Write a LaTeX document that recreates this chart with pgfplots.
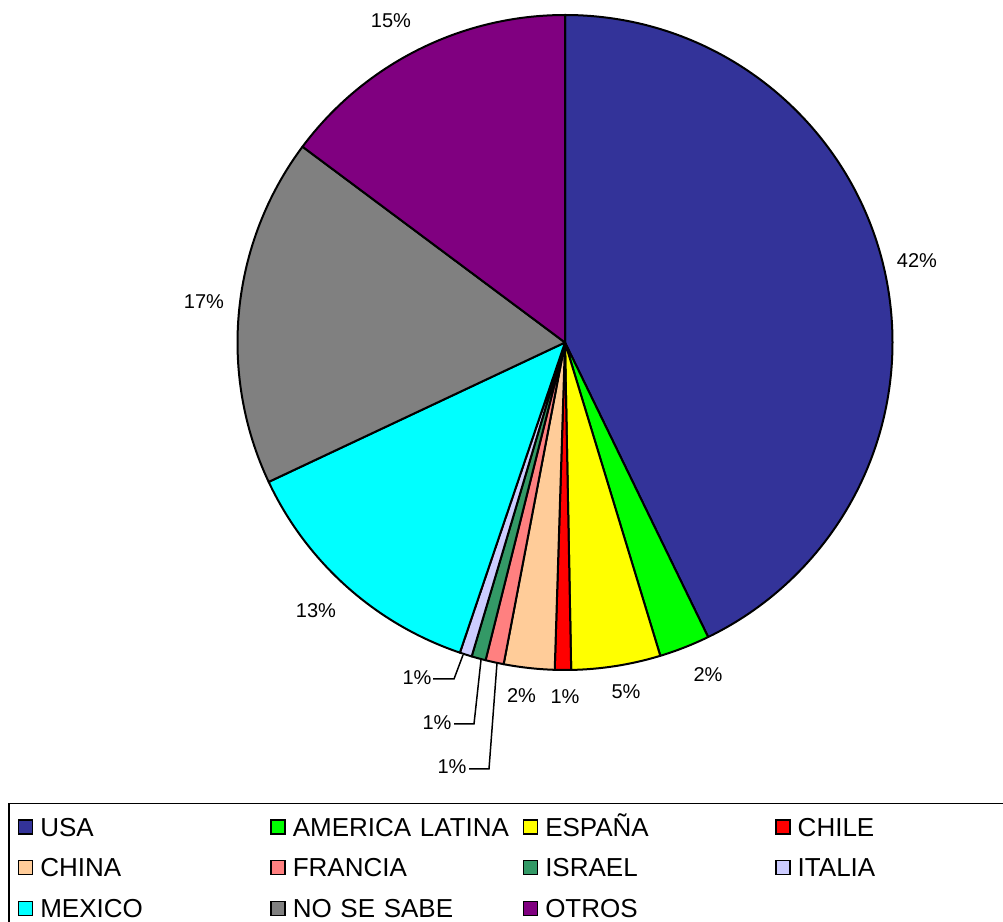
\documentclass[border=0pt]{standalone}
\usepackage{pgfplots}
\usepackage{pgfplotstable}
\usepackage{fontspec}
\setmainfont{Liberation Sans}
\pgfplotsset{compat=1.18}

\definecolor{cusa}{HTML}{333399}
\definecolor{clat}{HTML}{00FF00}
\definecolor{cesp}{HTML}{FFFF00}
\definecolor{cchi}{HTML}{FF0000}
\definecolor{cchn}{HTML}{FFCC99}
\definecolor{cfra}{HTML}{FF8080}
\definecolor{cisr}{HTML}{339966}
\definecolor{cita}{HTML}{CCCCFF}
\definecolor{cmex}{HTML}{00FFFF}
\definecolor{cnss}{HTML}{808080}
\definecolor{cotr}{HTML}{800080}

% porcentaje de cada pais (en orden horario desde arriba)
\pgfplotstableread[col sep=comma]{
pais,pct,col
USA,42.8,cusa
AMERICA LATINA,2.5,clat
ESPANA,4.4,cesp
CHILE,0.8,cchi
CHINA,2.5,cchn
FRANCIA,0.9,cfra
ISRAEL,0.7,cisr
ITALIA,0.6,cita
MEXICO,12.8,cmex
NO SE SABE,17.2,cnss
OTROS,14.8,cotr
}\piedata

\begin{document}
\begin{tikzpicture}
\clip (0,0) rectangle (501.5pt,461pt);
\begin{axis}[
    x=0.5pt, y=0.5pt,
    xmin=-565, xmax=438,
    ymin=-579.5, ymax=342.5,
    hide axis,
    clip=false,
    legend columns=4,
    legend cell align=left,
    legend image code/.code={\draw[#1,draw=black,line width=0.75pt] (0pt,-3.5pt) rectangle (7pt,3.5pt);},
    legend style={at={(0.00798,0.1291)}, anchor=north west,
        draw=black, line width=0.75pt,
        inner xsep=4.5pt, inner ysep=1.4pt,
        row sep=0pt, column sep=0pt,
        font=\fontsize{13}{15}\selectfont,
        nodes={inner xsep=3.5pt, inner ysep=3.6pt, text height=11.15pt,
               text depth=2pt, text width=111.5pt, align=left}},
  ]
\pgfplotstablegetrowsof{\piedata}
\pgfmathtruncatemacro\N{\pgfplotsretval-1}
\def\acc{0}
\pgfplotsforeachungrouped \i in {0,...,\N}{%
  \pgfplotstablegetelem{\i}{pct}\of\piedata \let\v\pgfplotsretval
  \pgfplotstablegetelem{\i}{col}\of\piedata \let\c\pgfplotsretval
  \pgfmathsetmacro\a{90-3.6*\acc}
  \pgfmathsetmacro\b{90-3.6*(\acc+\v)}
  \pgfmathsetmacro\xa{327.5*cos(\a)}
  \pgfmathsetmacro\ya{327.5*sin(\a)}
  \edef\temp{\noexpand\filldraw[fill=\c,draw=black,line width=1pt,line join=round]
    (axis cs:0,0) -- (axis cs:\xa,\ya) arc[start angle=\a,end angle=\b,radius=163.75pt] -- cycle;}
  \temp
  \pgfmathsetmacro\acc{\acc+\v}
}

% etiquetas
\begin{scope}[font=\fontsize{10}{12}\selectfont]
\node at (axis cs:-174,321.5) {15\%};
\node at (axis cs:352,81.5) {42\%};
\node at (axis cs:-361,40.5) {17\%};
\node at (axis cs:-249,-268.5) {13\%};
\node at (axis cs:143,-332.5) {2\%};
\node at (axis cs:61,-349.5) {5\%};
\node at (axis cs:0,-354.5) {1\%};
\node at (axis cs:-43.5,-353.5) {2\%};
\node at (axis cs:-148,-335.5) {1\%};
\node at (axis cs:-128,-380.5) {1\%};
\node at (axis cs:-113,-424.5) {1\%};
\end{scope}
\draw[line width=0.75pt] (axis cs:-132,-336.5) -- (axis cs:-111,-336.5) -- (axis cs:-102,-312.5);
\draw[line width=0.75pt] (axis cs:-111,-381.5) -- (axis cs:-91,-381.5) -- (axis cs:-84,-317.5);
\draw[line width=0.75pt] (axis cs:-96,-426.5) -- (axis cs:-76,-426.5) -- (axis cs:-68,-320.5);

\addlegendimage{fill=cusa}
\addlegendimage{fill=clat}
\addlegendimage{fill=cesp}
\addlegendimage{fill=cchi}
\addlegendimage{fill=cchn}
\addlegendimage{fill=cfra}
\addlegendimage{fill=cisr}
\addlegendimage{fill=cita}
\addlegendimage{fill=cmex}
\addlegendimage{fill=cnss}
\addlegendimage{fill=cotr}
\legend{USA, AMERICA LATINA, ESPAÑA, CHILE, CHINA, FRANCIA, ISRAEL, ITALIA, MEXICO, NO SE SABE, OTROS}
\end{axis}
\end{tikzpicture}
\end{document}
